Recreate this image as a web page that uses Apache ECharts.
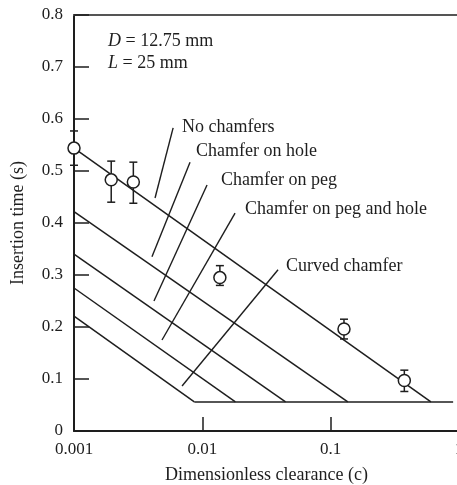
<!DOCTYPE html>
<html>
<head>
<meta charset="utf-8">
<script src="https://cdn.jsdelivr.net/npm/echarts@6/dist/echarts.min.js"></script>
<style>html,body{margin:0;padding:0;background:#fff}#c{width:457px;height:485px}</style>
</head>
<body>
<div id="c"></div>
<script>
// ---- data ----
var clearance = [0.001, 0.00195, 0.0029, 0.0137, 0.127, 0.375];
var insertTime = [0.544, 0.483, 0.479, 0.295, 0.196, 0.097];
var errLow = [0.511, 0.440, 0.438, 0.280, 0.177, 0.076];
var errHigh = [0.577, 0.519, 0.517, 0.318, 0.215, 0.117];

var lineNames = ['No chamfers', 'Chamfer on hole', 'Chamfer on peg', 'Chamfer on peg and hole', 'Curved chamfer'];
var lineStartX = [0.001, 0.001, 0.001, 0.001, 0.001];
var lineStartY = [0.544, 0.422, 0.340, 0.275, 0.221];
var lineEndX = [0.604, 0.136, 0.0445, 0.0181, 0.00866];
var floorY = 0.056;
var floorEndX = 0.9;

// leader lines: [x1, y1, x2, y2] in data units
var leaderA = [0.00592, 0.583, 0.00428, 0.448];
var leaderB = [0.00802, 0.517, 0.00405, 0.335];
var leaderC = [0.01088, 0.473, 0.00420, 0.250];
var leaderD = [0.01799, 0.419, 0.00485, 0.175];
var leaderE = [0.0389, 0.310, 0.00695, 0.0865];
var leaders = [leaderA, leaderB, leaderC, leaderD, leaderE];

var xTicks = [0.001, 0.01, 0.1, 1];
var yMin = 0, yMax = 0.8, yStep = 0.1;

var FONT = '"Liberation Serif", "DejaVu Serif", serif';
var INK = '#1e1e1e';

var chart = echarts.init(document.getElementById('c'));

var series = [];
// descending model lines
for (var i = 0; i < lineNames.length; i++) {
  series.push({
    type: 'line', name: lineNames[i], xAxisIndex: 0, yAxisIndex: 0,
    data: [[lineStartX[i], lineStartY[i]], [lineEndX[i], floorY]],
    symbol: 'none', silent: true, z: 2,
    lineStyle: { color: INK, width: 1.5 }
  });
}
// floor line
series.push({
  type: 'line', xAxisIndex: 0, yAxisIndex: 0,
  data: [[lineEndX[lineEndX.length - 1], floorY], [floorEndX, floorY]],
  symbol: 'none', silent: true, z: 2,
  lineStyle: { color: INK, width: 1.5 }
});
// leader lines
leaders.forEach(function (L) {
  series.push({
    type: 'line', xAxisIndex: 0, yAxisIndex: 0,
    data: [[L[0], L[1]], [L[2], L[3]]],
    symbol: 'none', silent: true, z: 2,
    lineStyle: { color: INK, width: 1.4 }
  });
});
// error bars
series.push({
  type: 'custom', xAxisIndex: 0, yAxisIndex: 0, z: 3, silent: true,
  data: clearance.map(function (c, k) { return [c, errLow[k], errHigh[k]]; }),
  renderItem: function (params, api) {
    var lo = api.coord([api.value(0), api.value(1)]);
    var hi = api.coord([api.value(0), api.value(2)]);
    var w = 4;
    var st = { stroke: INK, lineWidth: 1.5, fill: null };
    return {
      type: 'group',
      children: [
        { type: 'line', shape: { x1: lo[0], y1: lo[1], x2: hi[0], y2: hi[1] }, style: st },
        { type: 'line', shape: { x1: lo[0] - w, y1: lo[1], x2: lo[0] + w, y2: lo[1] }, style: st },
        { type: 'line', shape: { x1: hi[0] - w, y1: hi[1], x2: hi[0] + w, y2: hi[1] }, style: st }
      ]
    };
  }
});
// data points
series.push({
  type: 'scatter', xAxisIndex: 0, yAxisIndex: 0, z: 4, silent: true,
  data: clearance.map(function (c, k) { return [c, insertTime[k]]; }),
  symbol: 'circle', symbolSize: 12,
  itemStyle: { color: '#fff', borderColor: INK, borderWidth: 1.5, opacity: 1 }
});

function txt(x, y, s) {
  return { type: 'text', x: x, y: y, silent: true,
    style: { text: s, font: '18px ' + FONT, fill: INK, verticalAlign: 'middle', align: 'left' } };
}
var richStyle = {
  i: { fontStyle: 'italic', fontFamily: FONT, fontSize: 18, fill: INK },
  n: { fontFamily: FONT, fontSize: 18, fill: INK }
};

chart.setOption({
  animation: false,
  backgroundColor: '#fff',
  grid: { left: 74, right: -2, top: 15, bottom: 54, containLabel: false, outerBoundsMode: 'none' },
  xAxis: [{
    type: 'log', logBase: 10, min: xTicks[0], max: xTicks[xTicks.length - 1],
    position: 'bottom',
    name: 'Dimensionless clearance (c)', nameLocation: 'middle', nameGap: 35,
    nameTextStyle: { fontFamily: FONT, fontSize: 18, color: INK },
    axisLine: { show: true, lineStyle: { color: INK, width: 2 } },
    axisTick: { show: true, inside: true, length: 14, lineStyle: { color: INK, width: 1.5 } },
    minorTick: { show: false },
    axisLabel: { show: true, fontFamily: FONT, fontSize: 17, color: INK, margin: 10, hideOverlap: false,
      formatter: function (v) { return xTicks.indexOf(+v.toPrecision(6)) >= 0 ? String(+v.toPrecision(6)) : ''; } },
    splitLine: { show: false }
  }, {
    type: 'log', logBase: 10, min: xTicks[0], max: xTicks[xTicks.length - 1],
    position: 'top',
    axisLine: { show: true, lineStyle: { color: '#555', width: 2 } },
    axisTick: { show: false }, axisLabel: { show: false }, splitLine: { show: false }
  }],
  yAxis: [{
    type: 'value', min: yMin, max: yMax, interval: yStep,
    name: 'Insertion time (s)', nameLocation: 'middle', nameGap: 47,
    nameTextStyle: { fontFamily: FONT, fontSize: 18, color: INK },
    axisLine: { show: true, lineStyle: { color: INK, width: 2 } },
    axisTick: { show: true, inside: true, length: 15, lineStyle: { color: INK, width: 1.5 } },
    axisLabel: { fontFamily: FONT, fontSize: 17, color: INK, margin: 11,
      formatter: function (v) { return String(+v.toFixed(1)); } },
    splitLine: { show: false }
  }],
  series: series,
  graphic: [
    { type: 'text', x: 108, y: 41, silent: true,
      style: { rich: richStyle, text: '{i|D} {n|= 12.75 mm}', verticalAlign: 'middle', font: '18px ' + FONT, fill: INK } },
    { type: 'text', x: 108, y: 63, silent: true,
      style: { rich: richStyle, text: '{i|L} {n|= 25 mm}', verticalAlign: 'middle', font: '18px ' + FONT, fill: INK } },
    txt(182, 127, lineNames[0]),
    txt(196, 151, lineNames[1]),
    txt(221, 180, lineNames[2]),
    txt(245, 209, lineNames[3]),
    txt(286, 266, lineNames[4])
  ]
});
</script>
</body>
</html>
